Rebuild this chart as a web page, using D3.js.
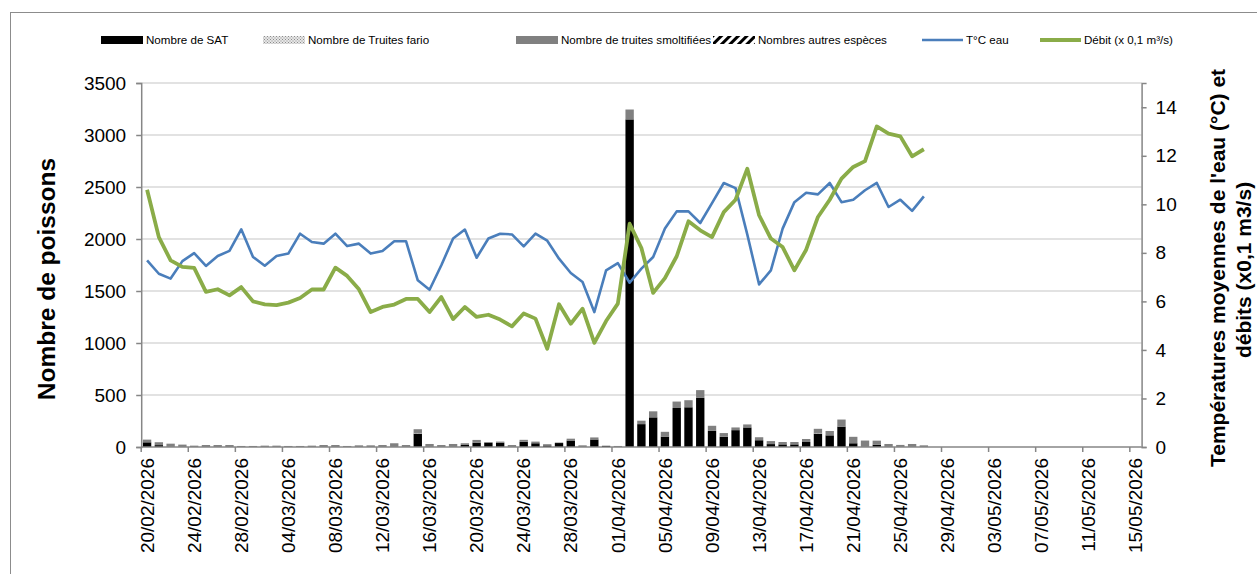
<!DOCTYPE html>
<html><head><meta charset="utf-8">
<script src="https://cdn.jsdelivr.net/npm/d3@7"></script>
<style>
body{margin:0;background:#fff;}
text{font-family:"Liberation Sans",Arial,sans-serif;}
</style>
</head><body>
<svg id="c" width="1257" height="574"></svg>
<script>
// ---- categories (one per day, 20/02/2026 -> 15/05/2026) ----
const fmt = d3.timeFormat("%d/%m/%Y");
const categories = d3.timeDay.range(new Date(2026,1,20), new Date(2026,4,16)).map(fmt);

// ---- series (daily values, data until 27/04/2026) ----
const sat = [45,18,0,0,0,0,0,0,0,0, 0,0,0,0,0,0,0,0,0,0, 0,0,0,130,0,0,0,20,42,40,
  42,0,50,36,15,38,62,0,72,10, 0,3150,220,285,100,375,382,472,155,98,
  162,188,65,28,25,25,48,130,112,196, 36,0,22,0,0,0,0];
const fario = [0,0,0,0,0,0,0,0,0,0, 0,0,0,0,0,0,0,0,0,0, 0,0,0,5,0,0,0,0,0,0,
  0,0,0,0,0,0,0,0,0,0, 0,0,0,0,0,0,0,0,0,0, 0,0,0,0,0,0,0,5,0,0, 0,0,0,0,0,0,0];
const smolt = [26,28,32,23,13,19,19,19,10,10, 13,13,10,10,13,19,19,10,16,16, 19,36,19,36,29,19,29,16,26,8,
  10,19,19,16,12,5,18,16,20,3, 10,95,33,58,46,62,68,75,49,36,
  26,29,29,29,23,23,29,40,42,68, 62,62,39,29,20,29,16];
const autres = [0,0,0,0,0,0,0,0,0,0, 0,0,0,0,0,0,0,0,0,0, 0,0,0,0,0,0,0,0,0,0,
  0,0,0,0,0,0,0,0,0,0, 0,0,0,0,0,0,0,0,0,0, 0,0,0,0,0,0,0,0,0,0, 0,0,0,0,0,0,0];
const temp = [7.69,7.14,6.94,7.66,7.99,7.46,7.87,8.08,8.97,7.83, 7.47,7.87,7.97,8.79,8.45,8.38,8.79,8.28,8.38,7.97,
  8.08,8.48,8.48,6.87,6.48,7.49,8.59,8.96,7.80,8.59, 8.79,8.76,8.27,8.79,8.50,7.76,7.17,6.80,5.56,7.28,
  7.58,6.77,7.35,7.83,9.0,9.71,9.71,9.23,10.05,10.88, 10.67,8.75,6.70,7.28,9.0,10.09,10.48,10.41,10.88,10.09,
  10.19,10.58,10.88,9.89,10.19,9.73,10.33];
const debit = [10.6,8.65,7.69,7.42,7.38,6.39,6.50,6.25,6.59,6.0, 5.88,5.85,5.95,6.14,6.49,6.49,7.39,7.05,6.50,5.56,
  5.77,5.87,6.10,6.10,5.56,6.18,5.27,5.77,5.36,5.45, 5.25,4.97,5.50,5.29,4.05,5.88,5.08,5.70,4.29,5.19,
  5.91,9.20,8.20,6.35,6.96,7.86,9.30,8.93,8.65,9.68, 10.19,11.47,9.55,8.59,8.24,7.28,8.13,9.48,10.19,11.06,
  11.54,11.78,13.21,12.91,12.80,11.98,12.27];

// ---- tick values ----
const leftTicks = [0,500,1000,1500,2000,2500,3000,3500];
const rightTicks = [0,2,4,6,8,10,12,14];
const dateTicks = categories.filter((d,i)=> i%4===0);

const seriesNames = ["Nombre de SAT","Nombre de Truites fario","Nombre de truites smoltifiées","Nombres autres espèces"];
const lineNames = ["T°C eau","Débit (x 0,1 m³/s)"];

// ---- drawing ----
const svg = d3.select("#c");
const L = 141.2, R = 1141.6, T = 83, B = 447;
const axisCol = "#868686";

const defs = svg.append("defs");
const pf = defs.append("pattern").attr("id","pFario").attr("patternUnits","userSpaceOnUse").attr("width",3).attr("height",3);
pf.append("rect").attr("width",3).attr("height",3).attr("fill","#e6e6e6");
pf.append("rect").attr("width",1).attr("height",1).attr("fill","#8c8c8c");
pf.append("rect").attr("x",1.5).attr("y",1.5).attr("width",1).attr("height",1).attr("fill","#8c8c8c");
const pa = defs.append("pattern").attr("id","pAutres").attr("patternUnits","userSpaceOnUse").attr("width",6).attr("height",6).attr("patternTransform","rotate(45)");
pa.append("rect").attr("width",6).attr("height",6).attr("fill","#fff");
pa.append("rect").attr("width",3).attr("height",6).attr("fill","#000");

// outer border
svg.append("rect").attr("x",10.5).attr("y",12.5).attr("width",1300).attr("height",600)
  .attr("fill","none").attr("stroke","#8c8c8c").attr("stroke-width",1);

const x = d3.scaleBand().domain(categories).range([L,R]).paddingInner(0.29).paddingOuter(0.145);
const step = x.step();
const yL = d3.scaleLinear().domain([0,3500]).range([B,T]);
const yR = d3.scaleLinear().domain([0,15]).range([B,T]);

// gridlines
svg.append("g").selectAll("line").data(leftTicks.filter(v=>v>0)).join("line")
  .attr("x1",L).attr("x2",R).attr("y1",d=>yL(d)).attr("y2",d=>yL(d))
  .attr("stroke","#d9d9d9").attr("stroke-width",1.5);

// stacked bars
const rows = sat.map((v,i)=>({cat:categories[i], sat:v, fario:fario[i], smolt:smolt[i], autres:autres[i]}));
const keys = ["sat","fario","smolt","autres"];
const fills = {sat:"#000000", fario:"url(#pFario)", smolt:"#808080", autres:"url(#pAutres)"};
const stack = d3.stack().keys(keys)(rows);
svg.append("g").selectAll("g").data(stack).join("g").attr("fill",d=>fills[d.key])
  .selectAll("rect").data(d=>d.filter(p=>p[1]-p[0]>0)).join("rect")
  .attr("x",d=>x(d.data.cat)).attr("width",x.bandwidth())
  .attr("y",d=>yL(d[1])).attr("height",d=>yL(d[0])-yL(d[1]));

// lines
const cx = i => x(categories[i]) + x.bandwidth()/2;
const lineGen = d3.line().x((d,i)=>cx(i)).y(d=>yR(d));
svg.append("path").datum(temp).attr("d",lineGen).attr("fill","none")
  .attr("stroke","#4a7ebb").attr("stroke-width",2.6).attr("stroke-linejoin","round");
svg.append("path").datum(debit).attr("d",lineGen).attr("fill","none")
  .attr("stroke","#8aac48").attr("stroke-width",3.8).attr("stroke-linejoin","round");

// axes
const gl = svg.append("g").attr("transform",`translate(${L},0)`)
  .call(d3.axisLeft(yL).tickValues(leftTicks).tickSize(5).tickPadding(10).tickFormat(d3.format("d")));
const gr = svg.append("g").attr("transform",`translate(${R},0)`)
  .call(d3.axisRight(yR).tickValues(rightTicks).tickSize(5).tickPadding(9).tickFormat(d3.format("d")));
[gl,gr].forEach(g=>{
  g.select(".domain").attr("stroke",axisCol).attr("stroke-width",1.5);
  g.selectAll(".tick line").attr("stroke",axisCol).attr("stroke-width",1.5);
  g.selectAll(".tick text").attr("font-size",19).attr("fill","#000")
   .attr("font-family","'Liberation Sans',Arial,sans-serif");
});

// x axis
const gx = svg.append("g").attr("transform",`translate(0,${B})`)
  .call(d3.axisBottom(x).tickValues(dateTicks).tickSize(0).tickPadding(0));
gx.select(".domain").remove();
gx.selectAll(".tick text").attr("font-size",19).attr("fill","#000")
  .attr("font-family","'Liberation Sans',Arial,sans-serif")
  .attr("transform","rotate(-90)").attr("text-anchor","end")
  .attr("x",-11).attr("y",0).attr("dy","0.35em");
svg.append("line").attr("x1",L).attr("x2",R).attr("y1",B).attr("y2",B).attr("stroke",axisCol).attr("stroke-width",1.5);
svg.append("g").selectAll("line").data(dateTicks).join("line")
  .attr("x1",d=>x(d)-(step-x.bandwidth())/2).attr("x2",d=>x(d)-(step-x.bandwidth())/2)
  .attr("y1",B).attr("y2",B+5).attr("stroke",axisCol).attr("stroke-width",1.5);

// axis titles
svg.append("text").attr("transform","translate(46,279) rotate(-90)").attr("text-anchor","middle")
  .attr("dy","0.35em").attr("font-size",24.5).attr("font-weight","bold").text("Nombre de poissons");
svg.append("text").attr("transform","translate(1218,268) rotate(-90)").attr("text-anchor","middle")
  .attr("dy","0.35em").attr("font-size",21).attr("font-weight","bold").text("Températures moyennes de l'eau (°C) et");
svg.append("text").attr("transform","translate(1244,270) rotate(-90)").attr("text-anchor","middle")
  .attr("dy","0.35em").attr("font-size",21).attr("font-weight","bold").text("débits (x0,1 m3/s)");

// legend
const lg = svg.append("g");
const barLeg = [{x:101,f:fills.sat},{x:263,f:fills.fario},{x:516,f:fills.smolt},{x:713,f:fills.autres}];
barLeg.forEach((d,i)=>{
  lg.append("rect").attr("x",d.x).attr("y",36).attr("width",42).attr("height",8).attr("fill",d.f);
  lg.append("text").attr("x",d.x+45).attr("y",40).attr("dy","0.35em").attr("font-size",11.6).text(seriesNames[i]);
});
const lineLeg = [{x:922,c:"#4a7ebb",w:2.6},{x:1040,c:"#8aac48",w:3.8}];
lineLeg.forEach((d,i)=>{
  lg.append("line").attr("x1",d.x).attr("x2",d.x+41).attr("y1",40).attr("y2",40).attr("stroke",d.c).attr("stroke-width",d.w);
  lg.append("text").attr("x",d.x+44).attr("y",40).attr("dy","0.35em").attr("font-size",11.6).text(lineNames[i]);
});
</script>
</body></html>
